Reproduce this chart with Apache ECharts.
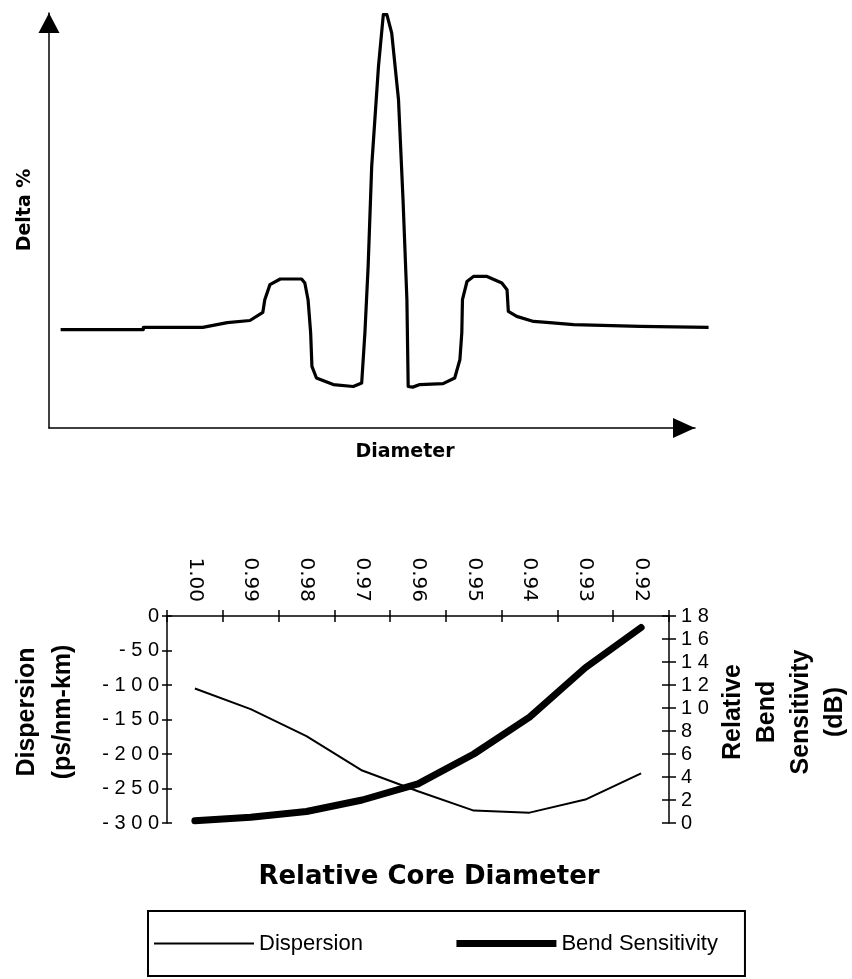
<!DOCTYPE html>
<html><head><meta charset="utf-8">
<script src="https://cdn.jsdelivr.net/npm/echarts@6/dist/echarts.min.js"></script>
<style>html,body{margin:0;padding:0;background:#fff}#c{width:852px;height:979px}</style>
</head><body><div id="c"></div>
<script>
// ---- Top panel: schematic refractive-index profile (arbitrary units) ----
const diameterPos = [1.8, 14.6, 14.6, 23.8, 27.6, 31.1, 33.1, 33.4, 34.2, 35.8, 39.1, 39.6, 40.1, 40.5, 40.7, 41.4, 44.0, 47.1, 48.4, 48.9, 49.4, 49.95, 51.0, 51.75, 52.3, 53.05, 54.1, 54.8, 55.4, 55.6, 56.3, 57.4, 61.0, 62.8, 63.6, 63.9, 64.0, 64.7, 65.7, 67.8, 70.1, 70.9, 71.1, 72.4, 75.0, 77.0, 81.2, 91.5, 91.75, 102.1];
const deltaProfile = [-0.007, -0.007, 0.0, 0.0, 0.015, 0.022, 0.048, 0.088, 0.136, 0.154, 0.154, 0.141, 0.088, -0.017, -0.124, -0.161, -0.182, -0.188, -0.177, -0.017, 0.194, 0.512, 0.83, 0.995, 0.995, 0.936, 0.724, 0.406, 0.088, -0.188, -0.19, -0.182, -0.179, -0.161, -0.103, -0.017, 0.088, 0.146, 0.162, 0.162, 0.141, 0.12, 0.051, 0.035, 0.019, 0.016, 0.009, 0.003, 0.0, 0.0];

// ---- Bottom panel ----
const coreDiameter = ['1.00', '0.99', '0.98', '0.97', '0.96', '0.95', '0.94', '0.93', '0.92'];
const dispersion = [-105, -135, -174, -224, -254, -282, -285, -266, -228];
const bendSensitivity = [0.2, 0.5, 1.0, 2.0, 3.4, 6.0, 9.2, 13.5, 17.0];

const profilePoints = diameterPos.map((x, i) => [x, deltaProfile[i]]);

const BLACK = '#000';
const spaced = v => String(v).split('').join(' ');
const yTickFont = { fontFamily: 'Liberation Sans', fontSize: 20, color: BLACK };
const hiddenAxis = { axisLine: { show: false }, axisTick: { show: false }, axisLabel: { show: false }, splitLine: { show: false } };

const chart = echarts.init(document.getElementById('c'), null, { renderer: 'canvas' });
chart.setOption({
  animation: false,
  backgroundColor: '#fff',
  grid: [
    { left: 49, top: 13, width: 646, height: 415 },
    { left: 167, top: 616, width: 502, height: 207 },
    { left: 49, top: 13, width: 659.6, height: 415 }
  ],
  xAxis: [
    { gridIndex: 0, type: 'value', min: 0, max: 100,
      axisLine: { show: true, onZero: false, lineStyle: { color: BLACK, width: 1.5 },
        symbol: ['none', 'triangle'], symbolSize: [20, 22], symbolOffset: [0, -11] },
      axisTick: { show: false }, axisLabel: { show: false }, splitLine: { show: false } },
    { gridIndex: 1, type: 'category', position: 'top', data: coreDiameter, boundaryGap: true,
      axisLine: { show: true, onZero: false, lineStyle: { color: BLACK, width: 1.5 } },
      axisTick: { show: true, length: 6, lineStyle: { color: BLACK, width: 1.5 } },
      axisLabel: { rotate: 90, margin: 14, fontFamily: 'DejaVu Sans', fontSize: 20, color: BLACK },
      splitLine: { show: false } },
    { gridIndex: 1, type: 'category', position: 'top', data: coreDiameter, boundaryGap: true,
      axisLine: { show: false, onZero: false },
      axisTick: { show: true, inside: true, length: 6, lineStyle: { color: BLACK, width: 1.5 } },
      axisLabel: { show: false }, splitLine: { show: false } },
    { gridIndex: 2, type: 'value', min: 0, max: 102.1, ...hiddenAxis }
  ],
  yAxis: [
    { gridIndex: 0, type: 'value', min: -0.32, max: 1.0,
      axisLine: { show: true, onZero: false, lineStyle: { color: BLACK, width: 1.5 },
        symbol: ['none', 'triangle'], symbolSize: [21, 20], symbolOffset: [0, -10] },
      axisTick: { show: false }, axisLabel: { show: false }, splitLine: { show: false } },
    { gridIndex: 1, type: 'value', position: 'left', min: -300, max: 0, interval: 50,
      axisLine: { show: true, onZero: false, lineStyle: { color: BLACK, width: 1.5 } },
      axisTick: { show: true, length: 5, lineStyle: { color: BLACK, width: 1.5 } },
      axisLabel: { margin: 8, ...yTickFont, formatter: spaced }, splitLine: { show: false } },
    { gridIndex: 1, type: 'value', position: 'right', min: 0, max: 18, interval: 2,
      axisLine: { show: true, onZero: false, lineStyle: { color: BLACK, width: 1.5 } },
      axisTick: { show: true, length: 7, lineStyle: { color: BLACK, width: 1.5 } },
      axisLabel: { margin: 12, ...yTickFont, formatter: spaced }, splitLine: { show: false } },
    { gridIndex: 1, type: 'value', position: 'left', min: -300, max: 0, interval: 50,
      axisLine: { show: false, onZero: false },
      axisTick: { show: true, inside: true, length: 5, lineStyle: { color: BLACK, width: 1.5 } },
      axisLabel: { show: false }, splitLine: { show: false } },
    { gridIndex: 1, type: 'value', position: 'right', min: 0, max: 18, interval: 2,
      axisLine: { show: false, onZero: false },
      axisTick: { show: true, inside: true, length: 7, lineStyle: { color: BLACK, width: 1.5 } },
      axisLabel: { show: false }, splitLine: { show: false } },
    { gridIndex: 2, type: 'value', min: -0.32, max: 1.0, ...hiddenAxis }
  ],
  legend: {
    left: 148, top: 911,
    padding: [20, 27, 20, 5],
    borderColor: BLACK, borderWidth: 2,
    itemWidth: 100, itemHeight: 2, itemGap: 90,
    textStyle: { fontFamily: 'Liberation Sans', fontSize: 22, color: BLACK, lineHeight: 25 },
    lineStyle: { width: 'inherit', cap: 'butt' },
    itemStyle: { opacity: 0 },
    data: ['Dispersion', 'Bend Sensitivity']
  },
  series: [
    { name: 'Profile', type: 'line', xAxisIndex: 3, yAxisIndex: 5, data: profilePoints,
      showSymbol: false, symbol: 'none', clip: false,
      lineStyle: { color: BLACK, width: 3.2, join: 'round' } },
    { name: 'Dispersion', type: 'line', xAxisIndex: 1, yAxisIndex: 1, data: dispersion,
      symbol: 'none', clip: false, lineStyle: { color: BLACK, width: 2 }, itemStyle: { color: BLACK } },
    { name: 'Bend Sensitivity', type: 'line', xAxisIndex: 1, yAxisIndex: 2, data: bendSensitivity,
      symbol: 'none', clip: false, lineStyle: { color: BLACK, width: 7, cap: 'round', join: 'round' }, itemStyle: { color: BLACK } }
  ],
  graphic: [
    { type: 'text', x: 25, y: 210, rotation: Math.PI / 2,
      style: { text: 'Delta %', fontFamily: 'DejaVu Sans', fontWeight: 'bold', fontSize: 19, fill: BLACK, align: 'center', verticalAlign: 'middle' } },
    { type: 'text', x: 405, y: 452,
      style: { text: 'Diameter', fontFamily: 'DejaVu Sans', fontWeight: 'bold', fontSize: 19, fill: BLACK, align: 'center', verticalAlign: 'middle' } },
    { type: 'text', x: 45, y: 712, rotation: Math.PI / 2,
      style: { text: 'Dispersion\n(ps/nm-km)', fontFamily: 'Liberation Sans', fontWeight: 'bold', fontSize: 25, lineHeight: 36, fill: BLACK, align: 'center', verticalAlign: 'middle' } },
    { type: 'text', x: 784, y: 712, rotation: Math.PI / 2,
      style: { text: 'Relative\nBend\nSensitivity\n(dB)', fontFamily: 'Liberation Sans', fontWeight: 'bold', fontSize: 25, lineHeight: 34, fill: BLACK, align: 'center', verticalAlign: 'middle' } },
    { type: 'text', x: 429, y: 877,
      style: { text: 'Relative Core Diameter', fontFamily: 'DejaVu Sans', fontWeight: 'bold', fontSize: 26, fill: BLACK, align: 'center', verticalAlign: 'middle' } }
  ]
});
</script></body></html>
